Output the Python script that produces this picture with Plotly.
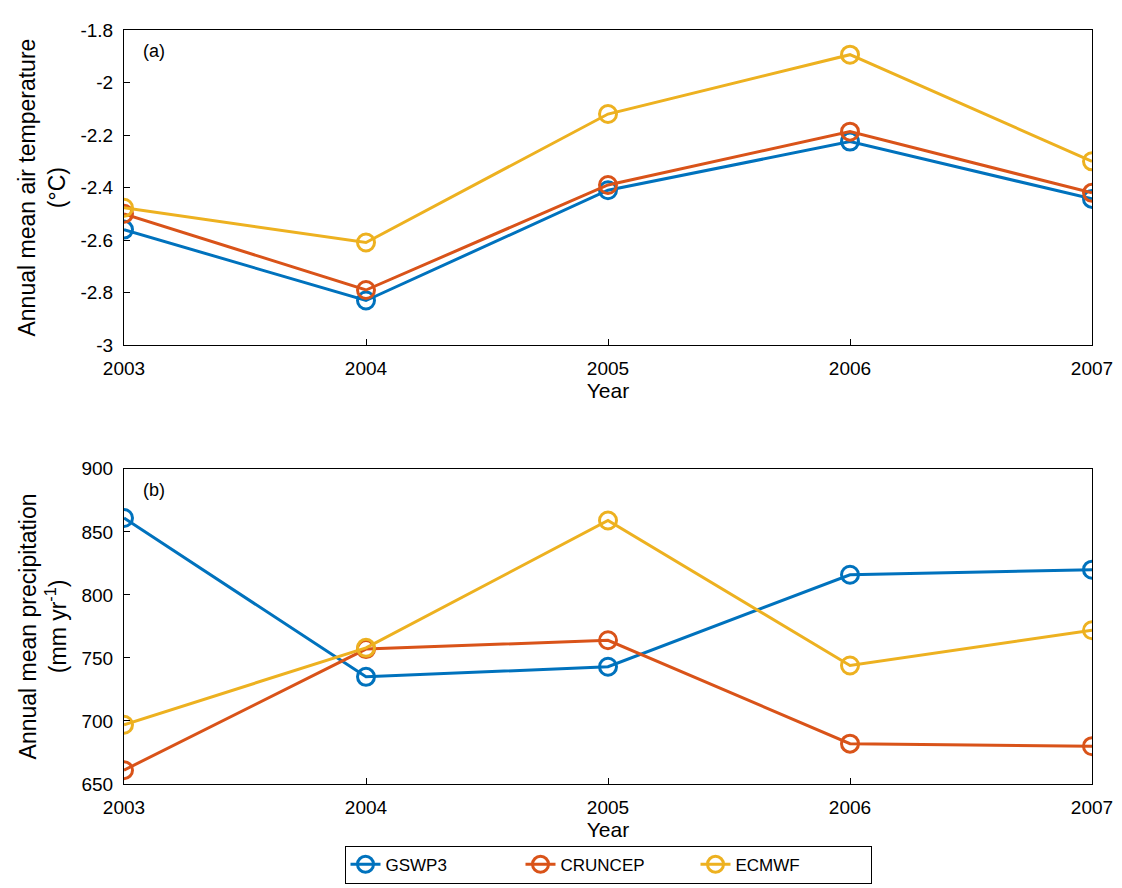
import plotly.graph_objects as go
from plotly.subplots import make_subplots

years = [2003, 2004, 2005, 2006, 2007]
temp_gswp3 = [-2.56, -2.83, -2.41, -2.225, -2.443]
temp_cruncep = [-2.50, -2.79, -2.39, -2.187, -2.42]
temp_ecmwf = [-2.477, -2.609, -2.12, -1.894, -2.30]
prec_gswp3 = [861, 735, 743, 816, 820]
prec_cruncep = [661, 757, 764, 682, 680]
prec_ecmwf = [697, 758, 859, 744, 772]
temp_ticks = [-3, -2.8, -2.6, -2.4, -2.2, -2, -1.8]
temp_ticklabels = ["-3", "-2.8", "-2.6", "-2.4", "-2.2", "-2", "-1.8"]
names = ["GSWP3", "CRUNCEP", "ECMWF"]
colors = ["#0072BD", "#D95319", "#EDB120"]

fig = make_subplots(rows=2, cols=1, vertical_spacing=0.164)
for i, (t, p) in enumerate([(temp_gswp3, prec_gswp3), (temp_cruncep, prec_cruncep), (temp_ecmwf, prec_ecmwf)]):
    style = dict(mode="lines+markers", line=dict(color=colors[i], width=3),
                 marker=dict(symbol="circle-open", size=17, line=dict(width=3, color=colors[i])))
    fig.add_trace(go.Scatter(x=years, y=t, name=names[i], showlegend=True, **style), row=1, col=1)
    fig.add_trace(go.Scatter(x=years, y=p, name=names[i], showlegend=False, **style), row=2, col=1)

ax = dict(showline=True, mirror=True, linecolor="black", linewidth=1, showgrid=False, zeroline=False,
          ticks="inside", ticklen=6, tickcolor="black", tickfont=dict(size=19, color="black"),
          ticklabeloverflow="allow", ticklabelstandoff=6)
for r in (1, 2):
    fig.update_xaxes(range=[2003, 2007], dtick=1, title=dict(text="Year", font=dict(size=21, color="black"), standoff=2), row=r, col=1, **ax)
fig.update_yaxes(range=[-3, -1.8], tickvals=temp_ticks, ticktext=temp_ticklabels,
                 title=dict(text="Annual mean air temperature<br>(°C)", font=dict(size=23, color="black"), standoff=8), row=1, col=1, **ax)
fig.update_yaxes(range=[650, 900], dtick=50,
                 title=dict(text="Annual mean precipitation<br>(mm yr<sup>-1</sup>)", font=dict(size=23, color="black"), standoff=8), row=2, col=1, **ax)

fig.add_annotation(text="(a)", xref="x domain", yref="y domain", x=0.018, y=0.97, showarrow=False, font=dict(size=18, color="black"), xanchor="left", yanchor="top")
fig.add_annotation(text="(b)", xref="x2 domain", yref="y2 domain", x=0.018, y=0.97, showarrow=False, font=dict(size=18, color="black"), xanchor="left", yanchor="top")

fig.update_layout(width=1122, height=888, margin=dict(l=116, r=38, t=22, b=102),
                  paper_bgcolor="white", plot_bgcolor="white",
                  font=dict(family="Liberation Sans, Arial", color="black"),
                  legend=dict(orientation="h", x=0.5, xanchor="center", y=-0.107, yanchor="middle",
                              bordercolor="black", borderwidth=1, font=dict(size=17),
                              entrywidth=130, entrywidthmode="pixels"))
fig.write_html("out.html")
